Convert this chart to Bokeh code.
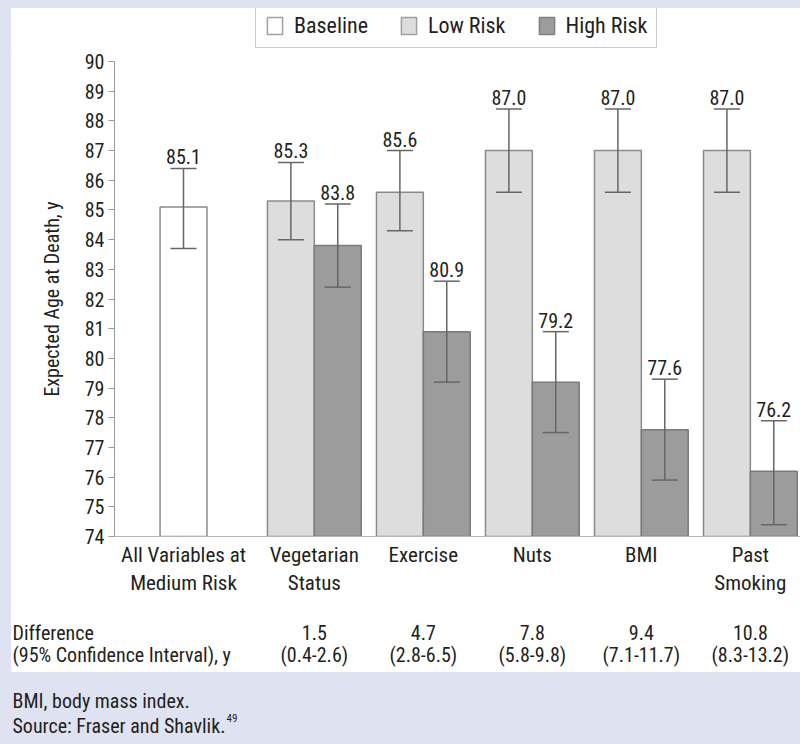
from bokeh.plotting import figure
from bokeh.models import (ColumnDataSource, Whisker, TeeHead, LabelSet, Label,
                          FixedTicker, Legend, LegendItem, Range1d)
from bokeh.layouts import column
from bokeh.core.properties import value
from bokeh.embed import file_html
from bokeh.resources import INLINE

# ---------------- data ----------------
category_labels = ["All Variables at\nMedium Risk", "Vegetarian\nStatus", "Exercise",
                   "Nuts", "BMI", "Past\nSmoking"]
category_pos = [0, 12, 22, 32, 42, 52]

baseline_value = [85.1]
baseline_lower = [83.7]
baseline_upper = [86.4]

low_values = [85.3, 85.6, 87.0, 87.0, 87.0]
low_lower = [84.0, 84.3, 85.6, 85.6, 85.6]
low_upper = [86.6, 87.0, 88.4, 88.4, 88.4]

high_values = [83.8, 80.9, 79.2, 77.6, 76.2]
high_lower = [82.4, 79.2, 77.5, 75.9, 74.4]
high_upper = [85.2, 82.6, 80.9, 79.3, 77.9]

diff_values = ["1.5", "4.7", "7.8", "9.4", "10.8"]
diff_ci = ["(0.4-2.6)", "(2.8-6.5)", "(5.8-9.8)", "(7.1-11.7)", "(8.3-13.2)"]

y_ticks = list(range(74, 91))

# ---------------- style ----------------
FONT = "Roboto Condensed"
FS = "20px"
FS_CAT = "21px"
FS_LEG = "22px"
LAV = "#dfe3f1"
TXT = "#231f20"
OUT = "#8a8a8a"
ERR = "#666666"
BASE_FILL = "white"
LOW_FILL = "#dddddd"
HIGH_FILL = "#9c9c9c"
W = 4.3
Y0, Y1 = 74, 90
XPX = 10.9               # pixels per x unit
X_LEFT, X_RIGHT = -6.33, 56.6
LEFT_BORDER = 103


def strip(width, height, fill):
    fig = figure(width=width, height=height, x_range=Range1d(0, width),
                 y_range=Range1d(0, height), output_backend="svg", toolbar_location=None,
                 x_axis_type=None, y_axis_type=None, min_border=0, frame_align=False)
    fig.background_fill_color = fill
    fig.border_fill_color = fill
    fig.outline_line_color = None
    fig.grid.visible = False
    return fig


# ---------------- legend strip ----------------
lf = strip(789, 42, "white")
# legend proxies: one hidden bar each, placed outside the strip's visible range
proxy = dict(x=[-100], top=[-100])
l_base = lf.vbar(x="x", top="top", bottom=-200, width=1, source=ColumnDataSource(proxy),
                 fill_color=BASE_FILL, line_color="#a0a0a0", line_width=1.5)
l_low = lf.vbar(x="x", top="top", bottom=-200, width=1, source=ColumnDataSource(proxy),
                fill_color=LOW_FILL, line_color="#a0a0a0", line_width=1.5)
l_high = lf.vbar(x="x", top="top", bottom=-200, width=1, source=ColumnDataSource(proxy),
                 fill_color=HIGH_FILL, line_color="#808080", line_width=1.5)
legend = Legend(items=[LegendItem(label="Baseline", renderers=[l_base]),
                       LegendItem(label="Low Risk", renderers=[l_low]),
                       LegendItem(label="High Risk", renderers=[l_high])],
                orientation="horizontal", location=(244, 2),
                glyph_width=19, glyph_height=21, label_standoff=10, spacing=31,
                padding=9, margin=0, border_line_color="#9a9a9a", border_line_width=1.5,
                label_text_font=FONT, label_text_font_size=FS_LEG, label_text_color=TXT,
                background_fill_alpha=1.0)
lf.add_layout(legend, "center")

# ---------------- main chart ----------------
p = figure(width=789, height=550, x_range=Range1d(X_LEFT, X_RIGHT), y_range=Range1d(Y0, Y1),
           output_backend="svg", toolbar_location=None,
           min_border_left=LEFT_BORDER, min_border_right=0, min_border_top=11,
           min_border_bottom=64, frame_align=False)
p.background_fill_color = "white"
p.border_fill_color = "white"
p.outline_line_color = None
p.xgrid.visible = False
p.ygrid.visible = False

p.yaxis.ticker = FixedTicker(ticks=y_ticks)
p.yaxis.minor_tick_line_color = None
p.yaxis.major_tick_in = 0
p.yaxis.major_tick_out = 6
p.yaxis.major_tick_line_color = "#9a9a9a"
p.yaxis.axis_line_color = "#9a9a9a"
p.yaxis.major_label_text_font = FONT
p.yaxis.major_label_text_font_size = FS
p.yaxis.major_label_text_color = TXT
p.yaxis.major_label_standoff = 4
p.yaxis.axis_label = "Expected Age at Death, y"
p.yaxis.axis_label_text_font = FONT
p.yaxis.axis_label_text_font_size = FS
p.yaxis.axis_label_text_font_style = "normal"
p.yaxis.axis_label_text_color = TXT
p.yaxis.axis_label_standoff = 18

p.xaxis.ticker = FixedTicker(ticks=category_pos)
p.xaxis.major_label_overrides = {pos: lab for pos, lab in zip(category_pos, category_labels)}
p.xaxis.major_tick_in = 0
p.xaxis.major_tick_out = 0
p.xaxis.minor_tick_line_color = None
p.xaxis.axis_line_color = "#b5b5b5"
p.xaxis.major_label_text_font = FONT
p.xaxis.major_label_text_font_size = FS_CAT
p.xaxis.major_label_text_color = TXT
p.xaxis.major_label_standoff = 6

src_base = ColumnDataSource(dict(x=[category_pos[0]], top=baseline_value,
                                 lower=baseline_lower, upper=baseline_upper,
                                 lab=[f"{v:.1f}" for v in baseline_value]))
src_low = ColumnDataSource(dict(x=[c - W / 2 for c in category_pos[1:]], top=low_values,
                                lower=low_lower, upper=low_upper,
                                lab=[f"{v:.1f}" for v in low_values]))
src_high = ColumnDataSource(dict(x=[c + W / 2 for c in category_pos[1:]], top=high_values,
                                 lower=high_lower, upper=high_upper,
                                 lab=[f"{v:.1f}" for v in high_values]))

p.vbar(x="x", top="top", bottom=Y0, width=W, source=src_base,
       fill_color=BASE_FILL, line_color=OUT, line_width=1.5)
p.vbar(x="x", top="top", bottom=Y0, width=W, source=src_low,
       fill_color=LOW_FILL, line_color=OUT, line_width=1.5)
p.vbar(x="x", top="top", bottom=Y0, width=W, source=src_high,
       fill_color=HIGH_FILL, line_color="#7a7a7a", line_width=1.5)

for src in (src_base, src_low, src_high):
    wh = Whisker(source=src, base="x", upper="upper", lower="lower", dimension="height",
                 line_color=ERR, line_width=1.5, level="annotation",
                 upper_head=TeeHead(size=26, line_color=ERR, line_width=1.5),
                 lower_head=TeeHead(size=26, line_color=ERR, line_width=1.5))
    p.add_layout(wh)
    p.add_layout(LabelSet(source=src, x="x", y="upper", text="lab", y_offset=4,
                          text_align="center", text_baseline="bottom",
                          text_font=value(FONT), text_font_size=value(FS),
                          text_color=TXT))

# ---------------- difference table ----------------
tf = figure(width=789, height=72, x_range=Range1d(X_LEFT - LEFT_BORDER / XPX, X_RIGHT),
            y_range=Range1d(0, 72), output_backend="svg", toolbar_location=None,
            x_axis_type=None, y_axis_type=None, min_border=0, frame_align=False)
tf.background_fill_color = "white"
tf.border_fill_color = "white"
tf.outline_line_color = None
tf.grid.visible = False
ROW1, ROW2 = 40, 18
src_diff = ColumnDataSource(dict(x=category_pos[1:], d=diff_values, ci=diff_ci))
for col, ry in (("d", ROW1), ("ci", ROW2)):
    tf.add_layout(LabelSet(source=src_diff, x="x", y=ry, text=col, text_align="center",
                           text_baseline="middle", text_font=value(FONT),
                           text_font_size=value(FS), text_color=TXT))
tf.add_layout(Label(x=X_LEFT - (LEFT_BORDER - 1) / XPX, y=ROW1, text="Difference",
                    text_align="left", text_baseline="middle", text_font=FONT,
                    text_font_size=FS, text_color=TXT))
tf.add_layout(Label(x=X_LEFT - (LEFT_BORDER - 1) / XPX, y=ROW2,
                    text="(95% Confidence Interval), y", text_align="left",
                    text_baseline="middle", text_font=FONT, text_font_size=FS,
                    text_color=TXT))

# ---------------- footnote ----------------
f = strip(800, 72, LAV)
f.add_layout(Label(x=12, y=44, text="BMI, body mass index.", text_align="left",
                   text_baseline="middle", text_font=FONT, text_font_size=FS,
                   text_color=TXT))
f.add_layout(Label(x=12, y=19, text="Source: Fraser and Shavlik.", text_align="left",
                   text_baseline="middle", text_font=FONT, text_font_size=FS,
                   text_color=TXT))
f.add_layout(Label(x=226, y=27, text="49", text_align="left",
                   text_baseline="middle", text_font=FONT, text_font_size="11px",
                   text_color=TXT))

panel = column(lf, p, tf, spacing=0, margin=(8, 0, 0, 11),
               styles={"background-color": "white"})
layout = column(panel, f, spacing=0)
html = file_html(layout, INLINE)
html = html.replace("</head>", "<style>body{background-color:%s;}</style></head>" % LAV)
open("out.html", "w").write(html)
